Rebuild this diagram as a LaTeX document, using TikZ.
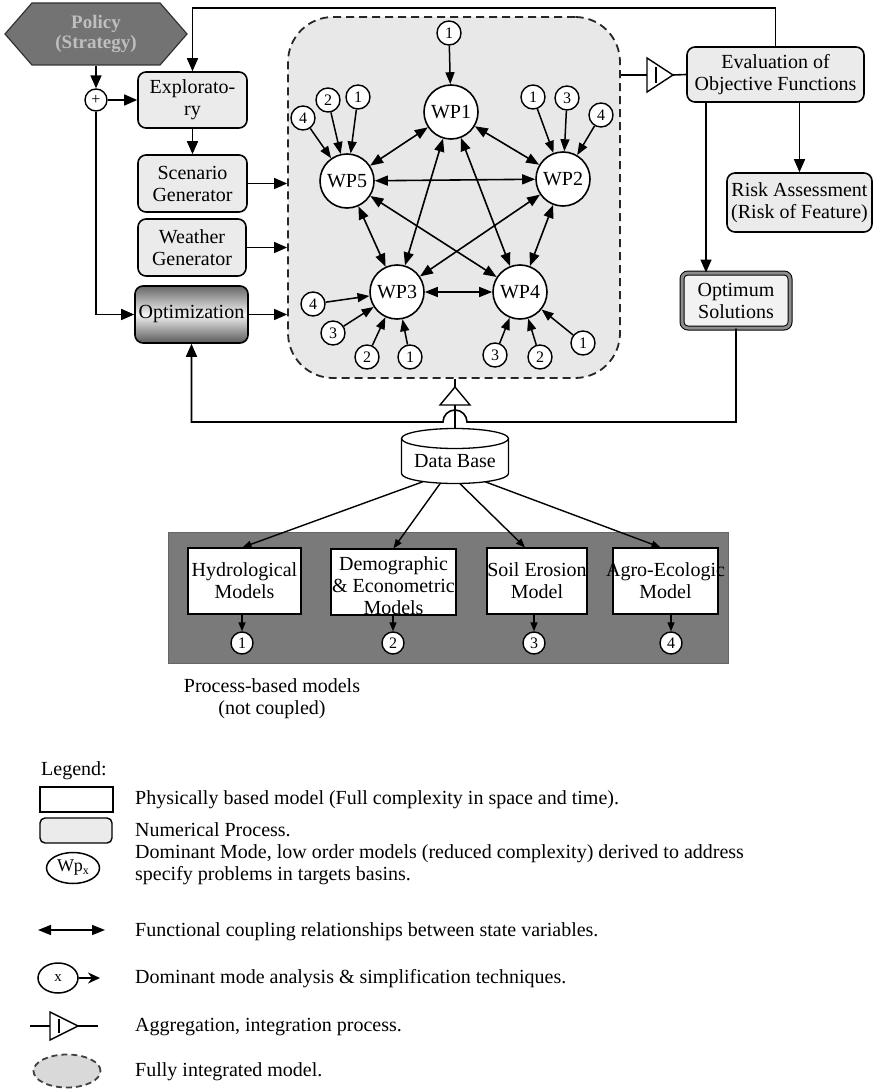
\documentclass[tikz,border=0pt]{standalone}
\usepackage{fontspec}
\setmainfont{Liberation Serif}
\usetikzlibrary{arrows.meta,shapes.symbols,shapes.geometric,calc}
\begin{document}
\begin{tikzpicture}[x=1pt,y=-1pt,
  txt/.style={font=\fontsize{20}{22}\selectfont},
  proc/.style={draw, line width=1.6pt, rounded corners=8pt, fill=black!8, align=center, inner sep=0pt, txt},
  wp/.style={circle, draw, fill=white, line width=1.6pt, minimum size=54pt, inner sep=0pt, txt},
  num/.style={circle, draw, fill=white, line width=1.4pt, minimum size=24pt, inner sep=0pt, font=\fontsize{16}{16}\selectfont},
  lw/.style={line width=1.6pt},
  arr/.style={line width=1.6pt, -{Triangle[length=13pt,width=11pt]}},
  dbl/.style={line width=1.6pt, {Triangle[length=13pt,width=10pt]}-{Triangle[length=13pt,width=10pt]}},
  inarr/.style={line width=1.5pt, -{Triangle[length=12pt,width=9pt]}},
  smarr/.style={line width=1.4pt, -{Triangle[length=9pt,width=7pt]}},
  model/.style={draw, fill=white, line width=1.3pt, inner sep=0pt},
  mtext/.style={align=center, inner sep=0pt, txt},
  legtext/.style={anchor=west, align=left, inner sep=0pt, txt}
]
\useasboundingbox (0,0) rectangle (875,1089);

% integrated model region
\node[draw=black!85, fill=black!9, dash pattern=on 8pt off 5pt, line width=1.8pt,
      rounded corners=45pt, minimum width=332, minimum height=361, inner sep=0pt] (region) at (454,197.5) {};

% policy and left column
\node[signal, signal to=west and east, signal pointer angle=98, draw=black!80, fill=black!55,
      line width=1.2pt, minimum width=182, minimum height=62, inner sep=0pt, align=center,
      font=\fontsize{19}{20}\selectfont\bfseries, text=black!25] (policy) at (96,34) {Policy\\(Strategy)};
\node[circle, draw, fill=white, line width=1.4pt, minimum size=22pt, inner sep=0pt,
      font=\fontsize{16}{16}\selectfont] (plus) at (96,100) {+};
\node[proc, minimum width=109, minimum height=56] (expl) at (192.5,100) {Explorato-\\ry};
\node[proc, minimum width=109, minimum height=57] (scen) at (192.5,183.5) {Scenario\\Generator};
\node[proc, minimum width=108, minimum height=57] (weath) at (192,247.5) {Weather\\Generator};
\node[proc, minimum width=113, minimum height=57, top color=black!60, bottom color=black!65,
      middle color=black!5] (optim) at (191.5,314.5) {Optimization};

% right column
\node[proc, minimum width=177, minimum height=55] (eval) at (775.5,74.5) {Evaluation of\\Objective Functions};
\node[proc, minimum width=145, minimum height=59] (risk) at (799.5,202.5) {Risk Assessment\\(Risk of Feature)};
\node[proc, minimum width=108, minimum height=55, draw=black, line width=1pt, double=black!45,
      double distance=3pt, rounded corners=6pt, fill=black!5] (opt) at (736,300.5) {Optimum\\Solutions};

% WP nodes
\node[wp] (wp1) at (451,112) {WP1};
\node[wp] (wp2) at (563,179) {WP2};
\node[wp] (wp3) at (397,292) {WP3};
\node[wp] (wp4) at (520,292) {WP4};
\node[wp] (wp5) at (347,181) {WP5};

\draw[dbl] (wp1) -- (wp2);
\draw[dbl] (wp1) -- (wp5);
\draw[dbl] (wp1) -- (wp3);
\draw[dbl] (wp1) -- (wp4);
\draw[dbl] (wp5) -- (wp2);
\draw[dbl] (wp5) -- (wp3);
\draw[dbl] (wp5) -- (wp4);
\draw[dbl] (wp2) -- (wp3);
\draw[dbl] (wp2) -- (wp4);
\draw[dbl] (wp3) -- (wp4);

% input numbered circles
\node[num] (a1) at (449,33) {1};
\node[num] (b4) at (303,118) {4};
\node[num] (b2) at (328,100) {2};
\node[num] (b1) at (358,97) {1};
\node[num] (c1) at (533,97) {1};
\node[num] (c3) at (567,98) {3};
\node[num] (c4) at (601,115) {4};
\node[num] (d4) at (313,304) {4};
\node[num] (d3) at (333,333) {3};
\node[num] (d2) at (367,357) {2};
\node[num] (d1) at (410,357) {1};
\node[num] (e3) at (495,355) {3};
\node[num] (e2) at (540,357) {2};
\node[num] (e1) at (583,343) {1};

\foreach \s/\t in {a1/wp1,b4/wp5,b2/wp5,b1/wp5,c1/wp2,c3/wp2,c4/wp2,d4/wp3,d3/wp3,d2/wp3,d1/wp3,e3/wp4,e2/wp4,e1/wp4}
  \draw[inarr] (\s) -- (\t);

% connectors left
\draw[arr] (policy.south) -- (plus.north);
\draw[arr] (plus.east) -- (expl.west);
\draw[arr] (expl.south) -- (scen.north);
\draw[arr] (plus.south) |- (optim.west);
\draw[arr] (scen.east) -- (scen.east -| region.west);
\draw[arr] (weath.east) -- (weath.east -| region.west);
\draw[arr] (optim.east) -- (optim.east -| region.west);
\draw[arr] (eval.north) -- ++(0,-38) -| (expl.north);

% aggregation to evaluation
\coordinate (agb) at (647,75);
\coordinate (agt) at (673,75);
\draw[lw] (region.east |- agb) -- (agb);
\draw[line width=1.4pt, line join=miter] (647,58) -- (673,75) -- (647,92) -- cycle;
\draw[line width=1.2pt] (656,67) -- (656,83);
\draw[lw] (agt) -- (eval.west);

\coordinate (eo) at (706,0);
\draw[arr] (eval.south -| eo) -- (opt.north -| eo);
\draw[arr] (eval.south -| risk.north) -- (risk.north);

% data base
\node[minimum width=107, minimum height=55, inner sep=0pt] (db) at (455,456) {};
\draw[line width=1.3pt, fill=white] (401.5,438.5) -- (401.5,473.5) arc[start angle=180, end angle=360, x radius=53.5pt, y radius=10pt] -- (508.5,438.5);
\draw[line width=1.3pt, fill=white] (455,438.5) ellipse [x radius=53.5pt, y radius=10pt];
\node[txt, inner sep=0pt] (dbt) at (455,461) {Data Base};

% bottom aggregation
\coordinate (bt) at (455,387);
\draw[lw] (region.south -| bt) -- (bt);
\draw[line width=1.4pt, line join=miter] (455,387) -- (470,405) -- (440,405) -- cycle;
\draw[lw] (455,405) -- (db.north);

% feedback from optimum
\draw[arr] (opt.south) -- (736,422) -- (467,422) arc[start angle=0, end angle=180, radius=12pt] -- (optim.south |- 0,422) -- (optim.south);

% bottom panel
\node[fill=black!52, draw=black!60, minimum width=560, minimum height=131, inner sep=0pt] (panel) at (448,597.5) {};
\node[model, minimum width=113, minimum height=66] (hyd) at (244.5,581) {};
\node[model, minimum width=125, minimum height=66] (dem) at (393.5,582) {};
\node[model, minimum width=100, minimum height=66] (soil) at (537,581) {};
\node[model, minimum width=105, minimum height=66] (agro) at (665.5,581) {};
\node[mtext] (hydt) at (hyd) {Hydrological\\Models};
\node[mtext] (demt) at ($(dem)+(0,4)$) {Demographic\\\& Econometric\\Models};
\node[mtext] (soilt) at (soil) {Soil Erosion\\Model};
\node[mtext] (agrot) at (agro) {Agro-Ecologic\\Model};

\draw[smarr] ($(db.south)+(-32,-2)$) -- ($(hyd.north)+(-2,0)$);
\draw[smarr] ($(db.south)+(-15,0)$) -- (dem.north);
\draw[smarr] ($(db.south)+(5,0)$) -- ($(soil.north)+(-12,0)$);
\draw[smarr] ($(db.south)+(30,-2)$) -- ($(agro.north)+(-5,0)$);

\node[num, minimum size=22pt] (p1) at (242,643) {1};
\node[num, minimum size=22pt] (p2) at (393,643) {2};
\node[num, minimum size=22pt] (p3) at (534,643) {3};
\node[num, minimum size=22pt] (p4) at (671,643) {4};
\draw[smarr] (hyd.south -| p1) -- (p1.north);
\draw[smarr] (dem.south -| p2) -- (p2.north);
\draw[smarr] (soil.south -| p3) -- (p3.north);
\draw[smarr] (agro.south -| p4) -- (p4.north);

\node[align=center, inner sep=0pt, font=\fontsize{20}{22}\selectfont] (pbm) at (272,699) {Process-based models\\(not coupled)};

% legend
\node[anchor=west, inner sep=0pt, txt] (leg) at (41,771) {Legend:};
\node[model, minimum width=73, minimum height=25] (l1) at (76.5,799.5) {};
\node[proc, minimum width=72, minimum height=25, rounded corners=5pt, line width=1.4pt] (l2) at (76,830.5) {};
\node[ellipse, draw, line width=1.5pt, minimum width=53, minimum height=31, inner sep=0pt,
      font=\fontsize{18}{18}\selectfont] (l3) at (73,868) {Wp{\fontsize{12}{12}\selectfont\raisebox{-3pt}{x}}};
\coordinate (l4a) at (38,930);
\coordinate (l4b) at (105,930);
\draw[dbl] (l4a) -- (l4b);
\node[ellipse, draw, line width=1.5pt, minimum width=40, minimum height=30, inner sep=0pt,
      font=\fontsize{15}{15}\selectfont] (l5) at (58,978) {x};
\coordinate (l5b) at (100,978);
\draw[line width=1.5pt, -{Stealth[length=12pt,width=11pt]}] (l5) -- (l5b);
\coordinate (l6a) at (30,1026);
\coordinate (l6b) at (98,1026);
\draw[lw] (l6a) -- (50,1026);
\draw[line width=1.4pt, line join=miter] (50,1012) -- (78,1026) -- (50,1040) -- cycle;
\draw[line width=1.2pt] (59,1019) -- (59,1033);
\draw[lw] (78,1026) -- (l6b);
\node[ellipse, draw=black!75, fill=black!15, dash pattern=on 6pt off 4pt, line width=1.8pt,
      minimum width=67, minimum height=33, inner sep=0pt] (l7) at (67,1071) {};

\node[legtext] (t1) at (135,800) {Physically based model (Full complexity in space and time).};
\node[legtext] (t2) at (135,830) {Numerical Process.};
\node[legtext] (t3) at (135,865) {Dominant Mode, low order models (reduced complexity) derived to address\\specify problems in targets basins.};
\node[legtext] (t4) at (135,932) {Functional coupling relationships between state variables.};
\node[legtext] (t5) at (135,979) {Dominant mode analysis \& simplification techniques.};
\node[legtext] (t6) at (135,1027) {Aggregation, integration process.};
\node[legtext] (t7) at (135,1072) {Fully integrated model.};
\end{tikzpicture}
\end{document}
